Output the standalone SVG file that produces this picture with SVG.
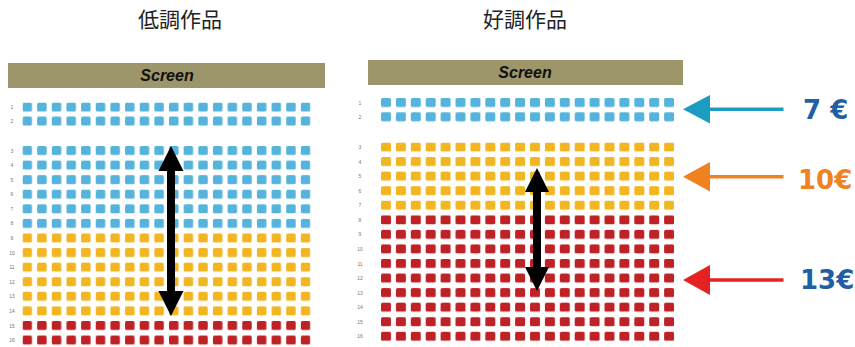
<svg xmlns="http://www.w3.org/2000/svg" width="855" height="347" viewBox="0 0 855 347">
<style>
.title{font-family:"Noto Sans CJK JP","Noto Sans CJK SC",sans-serif;font-size:21px;fill:#222;text-anchor:middle}
.scr{font-family:"Liberation Sans",Arial,sans-serif;font-size:16px;font-weight:bold;font-style:italic;fill:#111;text-anchor:middle}
.bar{fill:#9d966a}
.rl{font-family:"Liberation Sans",Arial,sans-serif;font-size:5px;fill:#777;text-anchor:middle}
.price{font-family:"DejaVu Sans",Verdana,sans-serif;font-size:26px;font-weight:bold}
</style>
<defs>
<pattern id="lB" patternUnits="userSpaceOnUse" x="22.5" y="146" width="14.65" height="14.58"><rect x="0" y="0" width="9.5" height="9" rx="1.5" fill="#55b3dc"/></pattern>
<pattern id="lB1" patternUnits="userSpaceOnUse" x="22.5" y="102.5" width="14.65" height="14"><rect x="0" y="0" width="9.5" height="9" rx="1.5" fill="#55b3dc"/></pattern>
<pattern id="lY" patternUnits="userSpaceOnUse" x="22.5" y="146" width="14.65" height="14.58"><rect x="0" y="0" width="9.5" height="9" rx="1.5" fill="#f2b623"/></pattern>
<pattern id="lR" patternUnits="userSpaceOnUse" x="22.5" y="146" width="14.65" height="14.58"><rect x="0" y="0" width="9.5" height="9" rx="1.5" fill="#be2226"/></pattern>
<pattern id="rB" patternUnits="userSpaceOnUse" x="381" y="98" width="14.9" height="14.3"><rect x="0" y="0" width="10" height="9" rx="1.5" fill="#55b3dc"/></pattern>
<pattern id="rY" patternUnits="userSpaceOnUse" x="381" y="142.5" width="14.9" height="14.56"><rect x="0" y="0" width="10" height="9" rx="1.5" fill="#f2b623"/></pattern>
<pattern id="rR" patternUnits="userSpaceOnUse" x="381" y="142.5" width="14.9" height="14.56"><rect x="0" y="0" width="10" height="9" rx="1.5" fill="#be2226"/></pattern>
</defs>
<rect width="855" height="347" fill="#fff"/>

<g id="title-low"><text class="title" x="180" y="26.5">低調作品</text></g>
<g id="title-high"><text class="title" x="525" y="26.5">好調作品</text></g>

<g id="hall-low">
<rect class="bar" x="8" y="63" width="317" height="25"/>
<text class="scr" x="167" y="81">Screen</text>
<rect x="22.5" y="102.5" width="288" height="24" fill="url(#lB1)"/>
<rect x="22.5" y="146" width="288" height="87.48" fill="url(#lB)"/>
<rect x="22.5" y="233.48" width="288" height="87.48" fill="url(#lY)"/>
<rect x="22.5" y="320.96" width="288" height="24" fill="url(#lR)"/>
<g class="rl">
<text x="12" y="109">1</text><text x="12" y="123">2</text>
<text x="12" y="152.5">3</text><text x="12" y="167.1">4</text><text x="12" y="181.7">5</text><text x="12" y="196.2">6</text><text x="12" y="210.8">7</text><text x="12" y="225.4">8</text><text x="12" y="240">9</text><text x="12" y="254.6">10</text><text x="12" y="269.2">11</text><text x="12" y="283.7">12</text><text x="12" y="298.3">13</text><text x="12" y="312.9">14</text><text x="12" y="327.5">15</text><text x="12" y="342">16</text>
</g>
</g>

<g id="hall-high">
<rect class="bar" x="368" y="60" width="315" height="25"/>
<text class="scr" x="525" y="78">Screen</text>
<rect x="381" y="98" width="293.2" height="24" fill="url(#rB)"/>
<rect x="381" y="142.5" width="293.2" height="72.8" fill="url(#rY)"/>
<rect x="381" y="215.3" width="293.2" height="126" fill="url(#rR)"/>
<g class="rl">
<text x="360" y="104.5">1</text><text x="360" y="118.8">2</text>
<text x="360" y="149">3</text><text x="360" y="163.6">4</text><text x="360" y="178.1">5</text><text x="360" y="192.7">6</text><text x="360" y="207.2">7</text><text x="360" y="221.8">8</text><text x="360" y="236.4">9</text><text x="360" y="250.9">10</text><text x="360" y="265.5">11</text><text x="360" y="280">12</text><text x="360" y="294.6">13</text><text x="360" y="309.2">14</text><text x="360" y="323.7">15</text><text x="360" y="338.3">16</text>
</g>
</g>

<g id="connectors">
<path d="M171,146 L183.5,171 L175,171 L175,291 L183.5,291 L171,316 L158.5,291 L167,291 L167,171 L158.5,171 Z" fill="#000"/>
<path d="M537,168 L549,192 L541,192 L541,267 L549,267 L537,291 L525,267 L533,267 L533,192 L525,192 Z" fill="#000"/>
<line x1="708" y1="109.3" x2="783.5" y2="109.3" stroke="#1b9cc0" stroke-width="3.5"/>
<path d="M683,109.3 L710,95 L710,123.5 Z" fill="#1b9cc0"/>
<line x1="708" y1="176.7" x2="783.5" y2="176.7" stroke="#f08220" stroke-width="3.5"/>
<path d="M683,176.7 L710,162 L710,191.5 Z" fill="#f08220"/>
<line x1="708" y1="280" x2="783.5" y2="280" stroke="#e52222" stroke-width="3.5"/>
<path d="M683,280 L710,265 L710,295 Z" fill="#e52222"/>
</g>

<g id="price-7"><text class="price" x="803" y="118.5" fill="#1f5fa8">7 €</text></g>
<g id="price-10"><text class="price" x="798" y="188.5" fill="#f08220">10€</text></g>
<g id="price-13"><text class="price" x="800" y="288.5" fill="#1f5fa8">13€</text></g>
</svg>
